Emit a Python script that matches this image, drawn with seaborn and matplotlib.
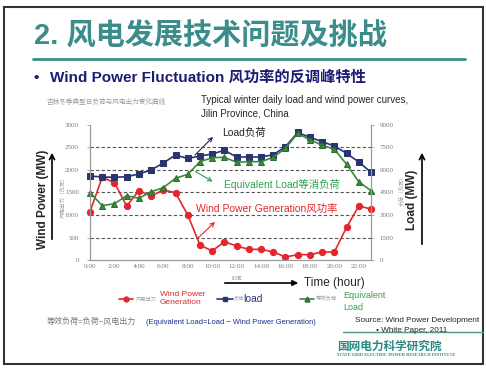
import matplotlib
matplotlib.use("Agg")
import matplotlib.pyplot as plt
import seaborn as sns
from matplotlib.lines import Line2D
from matplotlib.patches import Rectangle

# dane (godziny 0..23)
hours = list(range(24))
wind_mw = [1074, 1837, 1718, 1200, 1541, 1422, 1556, 1496, 1000, 333, 200, 407,
           311, 237, 237, 178, 67, 119, 119, 178, 178, 726, 1200, 1133]
load_mw = [5600, 5533, 5513, 5553, 5733, 6000, 6467, 7000, 6767, 6933, 7067, 7313,
           6867, 6867, 6867, 7020, 7553, 8500, 8180, 7887, 7600, 7113, 6533, 5847]
equiv_mw = [4489, 3620, 3753, 4287, 4113, 4553, 4820, 5447, 5713, 6553, 6820, 6847,
            6513, 6553, 6553, 6847, 7447, 8447, 8000, 7667, 7380, 6380, 5220, 4620]

xticks = list(range(0, 24, 2))
xlabels = [f"{h}:00" for h in xticks]
left_ticks = [0, 500, 1000, 1500, 2000, 2500, 3000]
right_ticks = [0, 1500, 3000, 4500, 6000, 7500, 9000]

sns.set_style("white")
plt.rcParams['font.family'] = ['Liberation Sans', 'Noto Sans CJK SC', 'DejaVu Sans']
plt.rcParams['axes.unicode_minus'] = False

RED = '#e3262b'
NAVY = '#28356e'
GREEN = '#3b8a3e'
TEAL = '#3a8d8a'

W, H = 486, 372
def fx(x):
    return x / W
def fy(y):
    return 1 - y / H

fig = plt.figure(figsize=(4.86, 3.72), dpi=100)
fig.patch.set_facecolor('white')

# ramka slajdu
fig.add_artist(Rectangle((fx(4), fy(364)), fx(483) - fx(4), fy(7) - fy(364),
                         transform=fig.transFigure, fill=False, ec='#333333', lw=1.5))

# tytul
fig.text(fx(34), fy(36), "2. 风电发展技术问题及挑战", fontsize=21, fontweight='bold',
         color=TEAL, va='center', ha='left')
fig.add_artist(Line2D([fx(33), fx(465)], [fy(58.5), fy(58.5)], color=TEAL, lw=2))
fig.text(fx(33), fy(78), "•", fontsize=11, fontweight='bold', color='#1c1c74', va='center')
fig.text(fx(50), fy(78), "Wind Power Fluctuation 风功率的反调峰特性", fontsize=11,
         fontweight='bold', color='#1c1c74', va='center')

fig.text(fx(47), fy(102), "吉林冬季典型日负荷与风电出力变化曲线", fontsize=4.8, color='#9a9a9a', va='center')
fig.text(fx(201), fy(100), "Typical winter daily load and wind power curves,", fontsize=7, va='center')
fig.text(fx(201), fy(114), "Jilin Province, China", fontsize=7, va='center')

# wykres
ax = fig.add_axes([fx(90), fy(260), fx(371) - fx(90), fy(125) - fy(260)])
ax2 = ax.twinx()

for yv in [500, 1000, 1500, 2000, 2500]:
    ax.axhline(yv, color='#555555', lw=0.8, ls=(0, (3, 2)), zorder=0)

sns.lineplot(x=hours, y=wind_mw, ax=ax, color=RED, marker='o', markersize=4.5,
             markeredgecolor=RED, linewidth=1.2, clip_on=False)
sns.lineplot(x=hours, y=load_mw, ax=ax2, color=NAVY, marker='s', markersize=4.5,
             markeredgecolor=NAVY, linewidth=1.2, clip_on=False)
sns.lineplot(x=hours, y=equiv_mw, ax=ax2, color=GREEN, marker='^', markersize=4.5,
             markeredgecolor='#2c6e2f', linewidth=1.2, clip_on=False)

ax.set_xlim(0, 23)
ax.set_ylim(0, 3000)
ax2.set_ylim(0, 9000)
ax.set_xticks(xticks)
ax.set_xticklabels(xlabels)
ax.set_xticks(hours, minor=True)
ax.set_yticks(left_ticks)
ax2.set_yticks(right_ticks)
for a in (ax, ax2):
    a.set_xlabel("")
    a.set_ylabel("")
    a.spines['top'].set_visible(False)
    for s in ('left', 'right', 'bottom'):
        a.spines[s].set_color('#9a9a9a')
        a.spines[s].set_linewidth(0.8)
    a.tick_params(labelsize=5, colors='#9a9a9a', labelcolor='#7a7a7a', length=2, width=0.6, pad=2)
    for lab in a.get_xticklabels() + a.get_yticklabels():
        lab.set_family('Liberation Serif')
ax.tick_params(axis='x', which='minor', length=1.5, direction='in', colors='#9a9a9a')
ax.tick_params(axis='x', which='major', direction='in', pad=3)
ax2.tick_params(axis='y', pad=4)
ax.tick_params(axis='y', pad=6)

fig.text(fx(237), fy(278), "时间", fontsize=3.8, color='#9a9a9a', ha='center', va='center')

# opisy osi
fig.text(fx(43), fy(199), "Wind Power (MW)", rotation=90, fontsize=8.5, fontweight='bold',
         ha='center', va='center')
fig.text(fx(62), fy(196), "风电出力（兆瓦）", rotation=90, fontsize=4, color='#a0a0a0',
         ha='center', va='center')
ax.annotate('', xy=(fx(52), fy(150)), xytext=(fx(52), fy(242)), xycoords='figure fraction',
            arrowprops=dict(arrowstyle='->', color='black', lw=1.2, mutation_scale=9))
fig.text(fx(412), fy(200), "Load (MW)", rotation=90, fontsize=8.5, fontweight='bold',
         ha='center', va='center')
fig.text(fx(401), fy(190), "负荷（兆瓦）", rotation=90, fontsize=4, color='#a0a0a0',
         ha='center', va='center')
ax.annotate('', xy=(fx(422), fy(150)), xytext=(fx(422), fy(247)), xycoords='figure fraction',
            arrowprops=dict(arrowstyle='->', color='black', lw=1.2, mutation_scale=9))
ax.annotate('', xy=(fx(301), fy(283)), xytext=(fx(222), fy(283)), xycoords='figure fraction',
            arrowprops=dict(arrowstyle='-|>', color='black', lw=1.2, mutation_scale=8))
fig.text(fx(304), fy(283), "Time (hour)", fontsize=8.5, va='center')

# adnotacje serii
fig.text(fx(222), fy(133), "Load负荷", fontsize=7.5, va='center')
ax.annotate('', xy=(fx(215), fy(135)), xytext=(fx(193), fy(157)), xycoords='figure fraction',
            arrowprops=dict(arrowstyle='->', color='#1a2550', lw=0.8, mutation_scale=7))
fig.text(fx(224), fy(185), "Equivalent Load等消负荷", fontsize=7.5, color='#2fa24a', va='center')
ax.annotate('', xy=(fx(215), fy(183)), xytext=(fx(193), fy(170)), xycoords='figure fraction',
            arrowprops=dict(arrowstyle='->', color='#2fa24a', lw=0.8, mutation_scale=7))
fig.text(fx(196), fy(209), "Wind Power Generation风功率", fontsize=7.5, color=RED, va='center')
ax.annotate('', xy=(fx(217), fy(220)), xytext=(fx(196), fy(240)), xycoords='figure fraction',
            arrowprops=dict(arrowstyle='->', color=RED, lw=0.8, mutation_scale=7))

# legenda
def legend_item(x0, x1, y, color, marker, mec):
    fig.add_artist(Line2D([fx(x0), fx(x1)], [fy(y), fy(y)], color=color, lw=1.2))
    fig.add_artist(Line2D([fx((x0 + x1) / 2)], [fy(y)], color=color, marker=marker,
                          markersize=3.5, markeredgecolor=mec, lw=0))

legend_item(119, 133, 299, RED, 'o', RED)
fig.text(fx(136), fy(299), "风电出力", fontsize=3.8, color='#a0a0a0', va='center')
fig.text(fx(160), fy(294), "Wind Power", fontsize=6, color=RED, va='center')
fig.text(fx(160), fy(303), "Generation", fontsize=6, color=RED, va='center')
legend_item(217, 233, 299, NAVY, 's', NAVY)
fig.text(fx(234), fy(299), "负荷", fontsize=3.8, color='#a0a0a0', va='center')
fig.text(fx(243), fy(299), "load", fontsize=7.5, color=NAVY, va='center')
legend_item(300, 314, 299, GREEN, '^', '#2c6e2f')
fig.text(fx(316), fy(299), "等效负荷", fontsize=3.8, color='#a0a0a0', va='center')
fig.text(fx(343), fy(296), "Equivalent", fontsize=6.5, color='#2fa24a', va='center')
fig.text(fx(343), fy(307), "Load", fontsize=6.5, color='#2fa24a', va='center')

# dolne opisy
fig.text(fx(47), fy(322), "等效负荷=负荷−风电出力", fontsize=5.8, color='#777777', va='center')
fig.text(fx(146), fy(322), "(Equivalent Load=Load − Wind Power Generation)", fontsize=5.4,
         color='#1a2a8a', va='center')
fig.text(fx(355), fy(321), "Source: Wind Power Development", fontsize=5.9, va='center')
fig.text(fx(376), fy(330), "• White Paper, 2011", fontsize=5.9, va='center')
fig.add_artist(Line2D([fx(343), fx(483)], [fy(332), fy(332)], color='#4a9a90', lw=1))
fig.text(fx(337), fy(347), "国网电力科学研究院", fontsize=8.4, fontweight='bold', color='#2a8a80',
         va='center')
fig.text(fx(337), fy(355.5), "STATE GRID ELECTRIC POWER RESEARCH INSTITUTE", fontsize=3.2,
         fontweight='bold', color='#2a8a80', va='center', family='Liberation Serif')

plt.savefig("out.png", dpi=100)
